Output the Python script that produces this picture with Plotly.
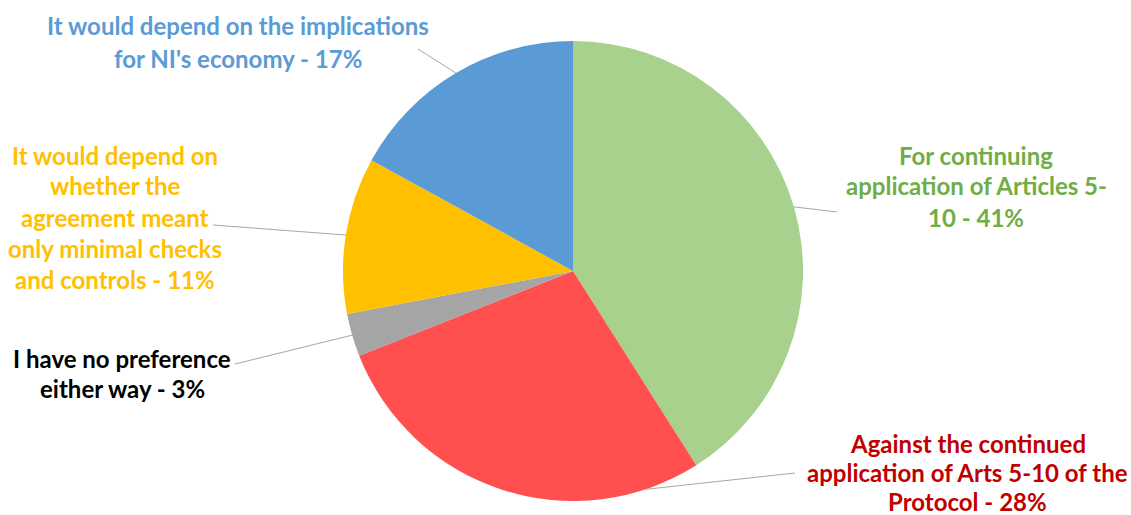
import math
import plotly.graph_objects as go

# ---- data ----
categories = [
    "For continuing application of Articles 5-10",
    "Against the continued application of Arts 5-10 of the Protocol",
    "I have no preference either way",
    "It would depend on whether the agreement meant only minimal checks and controls",
    "It would depend on the implications for NI's economy",
]
values = [41, 28, 3, 11, 17]
label_lines = [
    ["For continuing", "application of Articles 5-", "10 - 41%"],
    ["Against the continued", "application of Arts 5-10 of the", "Protocol - 28%"],
    ["I have no preference", "either way - 3%"],
    ["It would depend on", "whether the", "agreement meant", "only minimal checks", "and controls - 11%"],
    ["It would depend on the implications", "for NI's economy - 17%"],
]

# ---- style ----
slice_colors = ["#A9D18E", "#FF4F4F", "#A5A5A5", "#FFC000", "#5B9BD5"]
text_colors = ["#70AD47", "#C00000", "#000000", "#FFC000", "#5B9BD5"]
W, H = 1131, 515
cx, cy, R = 573, 271, 230          # pie centre / radius in pixels
# label block centre x (px), first-line y, line pitch
label_cx = [976, 968, 122, 115, 238]
label_y0 = [155, 443, 358, 155, 26]
pitch = [31, 29, 30, 31, 32]
# leader-line text end (px) and position within slice (fraction) for the anchor
leader_end = [(837, 212), (795, 473), (235, 364), (213, 225), (418, 49)]
anchor_frac = [0.5, 0.14, 0.5, 0.5, 0.5]
FONT = "Lato"
FSIZE = 24

fig = go.Figure(go.Pie(
    labels=categories, values=values, sort=False, direction="clockwise", rotation=0,
    marker=dict(colors=slice_colors, line=dict(width=0)),
    textinfo="none", hoverinfo="label+percent", showlegend=False,
    domain=dict(x=[(cx - R) / W, (cx + R) / W], y=[1 - (cy + R) / H, 1 - (cy - R) / H]),
))

total = sum(values)
cum = 0
annotations, shapes = [], []
for i, v in enumerate(values):
    frac = (cum + v * anchor_frac[i]) / total
    cum += v
    ang = 2 * math.pi * frac
    px = cx + R * math.sin(ang)
    py = cy - R * math.cos(ang)
    ex, ey = leader_end[i]
    shapes.append(dict(type="line", xref="paper", yref="paper",
                       x0=px / W, y0=1 - py / H, x1=ex / W, y1=1 - ey / H,
                       line=dict(color="#A6A6A6", width=1)))
    for k, line in enumerate(label_lines[i]):
        annotations.append(dict(
            text=line, xref="paper", yref="paper",
            x=label_cx[i] / W, y=1 - (label_y0[i] + k * pitch[i]) / H,
            xanchor="center", yanchor="middle", showarrow=False, borderpad=0,
            font=dict(family=FONT, size=FSIZE, color=text_colors[i], weight="bold"),
        ))

fig.update_layout(
    width=W, height=H, margin=dict(l=0, r=0, t=0, b=0),
    paper_bgcolor="white", plot_bgcolor="white",
    annotations=annotations, shapes=shapes,
)
fig.write_html("out.html", config={"displayModeBar": False},
               post_script="document.body.style.margin='0';document.body.style.overflow='hidden';")
